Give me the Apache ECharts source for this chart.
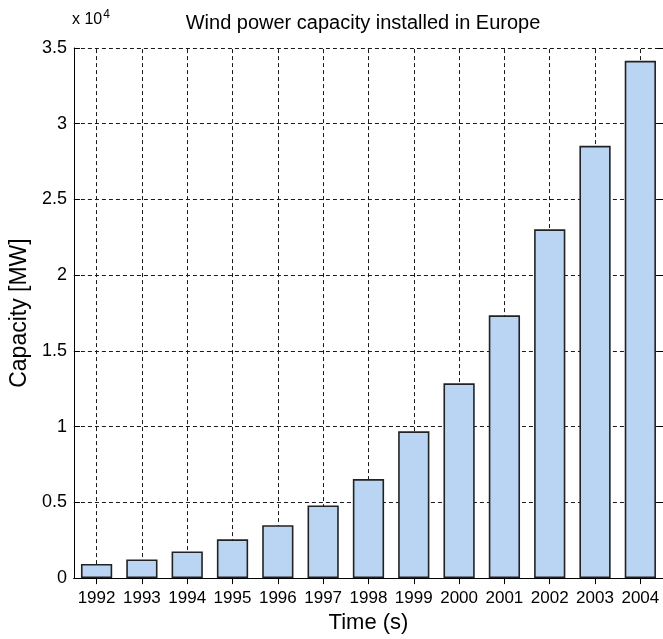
<!DOCTYPE html>
<html>
<head>
<meta charset="utf-8">
<script src="https://cdn.jsdelivr.net/npm/echarts@6/dist/echarts.min.js"></script>
<style>
  html, body { margin: 0; padding: 0; background: #fff; }
  #chart { width: 663px; height: 639px; }
</style>
</head>
<body>
<div id="chart"></div>
<script>
// Installed wind power capacity in Europe, MW per year
const years = ['1992', '1993', '1994', '1995', '1996', '1997', '1998',
               '1999', '2000', '2001', '2002', '2003', '2004'];
const capacityMW = [930, 1230, 1760, 2560, 3490, 4800, 6540,
                    9690, 12860, 17350, 23030, 28540, 34150];
const yMin = 0, yMax = 35000, yStep = 5000;
const yScale = 10000; // tick labels are shown in units of 10^4

const FONT = '"Liberation Sans", Arial, Helvetica, sans-serif';
const INK = '#000';

const chart = echarts.init(document.getElementById('chart'), null, { renderer: 'canvas' });

const tickStyle = { show: true, inside: true, length: 6, lineStyle: { color: INK, width: 1 } };
const lineStyle = { show: true, lineStyle: { color: INK, width: 1 } };

chart.setOption({
  animation: false,
  backgroundColor: '#fff',
  textStyle: { fontFamily: FONT },
  grid: { left: 71, top: 48, width: 594, height: 533.5, containLabel: false },
  graphic: [
    {
      type: 'text', x: 363, y: 23,
      style: {
        text: 'Wind power capacity installed in Europe',
        font: '20px ' + FONT, fill: INK,
        align: 'center', verticalAlign: 'middle',
        textAlign: 'center', textVerticalAlign: 'middle'
      }
    },
    {
      type: 'text', x: 72, y: 31,
      style: {
        text: '{a|x 10}{b|4}',
        fill: INK, verticalAlign: 'bottom', textVerticalAlign: 'bottom',
        rich: {
          a: { fontFamily: FONT, fontSize: 16, color: INK },
          b: { fontFamily: FONT, fontSize: 12, color: INK, padding: [0, 0, 10, 1] }
        }
      }
    }
  ],
  xAxis: [
    {
      type: 'category', data: years, position: 'bottom',
      axisLine: lineStyle, axisTick: Object.assign({ alignWithLabel: true }, tickStyle),
      axisLabel: { color: INK, fontSize: 17, margin: 12, interval: 0, fontFamily: FONT },
      splitLine: { show: false },
      name: 'Time (s)', nameLocation: 'middle', nameGap: 30,
      nameTextStyle: { color: INK, fontSize: 22, fontFamily: FONT }
    },
    {
      type: 'category', data: years, position: 'top',
      axisLine: lineStyle, axisTick: Object.assign({ alignWithLabel: true }, tickStyle),
      axisLabel: { show: false }, splitLine: { show: false }
    }
  ],
  yAxis: [
    {
      type: 'value', min: yMin, max: yMax, interval: yStep, position: 'left',
      axisLine: lineStyle, axisTick: tickStyle,
      axisLabel: {
        color: INK, fontSize: 18, margin: 7, fontFamily: FONT,
        formatter: v => String(v / yScale)
      },
      splitLine: { show: true, lineStyle: { color: '#1a1a1a', width: 1, type: [4, 3] } },
      name: 'Capacity [MW]', nameLocation: 'middle', nameGap: 40, nameRotate: 90,
      nameTextStyle: { color: INK, fontSize: 23, fontFamily: FONT }
    },
    {
      type: 'value', min: yMin, max: yMax, interval: yStep, position: 'right',
      axisLine: lineStyle, axisTick: tickStyle,
      axisLabel: { show: false }, splitLine: { show: false }
    }
  ],
  series: [
    {
      type: 'bar', name: 'Capacity', data: capacityMW,
      xAxisIndex: 0, yAxisIndex: 0, barWidth: '69%', z: 3,
      itemStyle: { color: '#bad4f3', borderColor: '#222', borderWidth: 1.6 },
      markLine: {
        silent: true, z: 1, symbol: ['none', 'none'],
        label: { show: false },
        lineStyle: { color: '#1a1a1a', width: 1, type: [4, 3] },
        data: years.map(y => ({ xAxis: y }))
      }
    }
  ]
});
</script>
</body>
</html>
